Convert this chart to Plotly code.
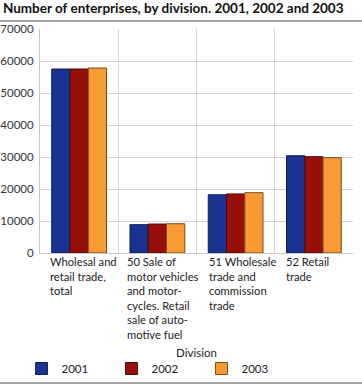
import plotly.graph_objects as go

title = "Number of enterprises, by division. 2001, 2002 and 2003"
categories = [
    "Wholesal and<br>retail trade,<br>total",
    "50 Sale of<br>motor vehicles<br>and motor-<br>cycles. Retail<br>sale of auto-<br>motive fuel",
    "51 Wholesale<br>trade and<br>commission<br>trade",
    "52 Retail<br>trade",
]
cat_keys = ["total", "50", "51", "52"]
years = ["2001", "2002", "2003"]
v2001 = [57500, 8850, 18200, 30400]
v2002 = [57500, 9050, 18450, 30100]
v2003 = [57800, 9150, 18850, 29800]
yticks = [0, 10000, 20000, 30000, 40000, 50000, 60000, 70000]
axis_title = "Division"

colors = ["#183391", "#980e08", "#f79a33"]
lines = ["#101f5a", "#4a0a06", "#7a4a1a"]
label_dx = [-0.40, -0.42, -0.37, -0.38]
font = "Lato"

fig = go.Figure()
for name, vals, c, lc in zip(years, [v2001, v2002, v2003], colors, lines):
    fig.add_trace(go.Bar(x=cat_keys, y=vals, name=name,
                         marker=dict(color=c, line=dict(color=lc, width=1))))

L, R, T, B = 40, 9, 29, 133
W, H = 362, 386
pw = W - L - R
ph = H - T - B

for i, lab in enumerate(categories):
    fig.add_annotation(x=i + label_dx[i], y=0, xref="x", yref="paper", yanchor="top",
                       xanchor="left", align="left", text=lab, showarrow=False,
                       yshift=0, font=dict(family=font, size=11.2, color="#222"))

# rules under title and at bottom
fig.add_shape(type="line", xref="paper", yref="paper",
              x0=-L / pw, x1=1 + R / pw, y0=1 + 8 / ph, y1=1 + 8 / ph,
              line=dict(color="#a0a0a0", width=2))
fig.add_shape(type="line", xref="paper", yref="paper",
              x0=-L / pw, x1=1 + R / pw, y0=-(383 - T - ph) / ph, y1=-(383 - T - ph) / ph,
              line=dict(color="#a0a0a0", width=2))

fig.update_layout(
    width=W, height=H,
    margin=dict(l=L, r=R, t=T, b=B, autoexpand=False),
    paper_bgcolor="white", plot_bgcolor="white",
    barmode="group", bargap=0.3, bargroupgap=0,
    font=dict(family=font, size=12, color="#222"),
    title=dict(text="<b>" + title + "</b>", x=0.008, xanchor="left",
               y=1 - 4 / H, yanchor="top", font=dict(family=font, size=13.5, color="#111")),
    xaxis=dict(showticklabels=False, tickson="boundaries", showgrid=True,
               gridcolor="#d4d4d4", gridwidth=1, showline=True, linecolor="#c8c8c8",
               range=[-0.5, 3.5], ticks="", automargin=False,
               title=dict(text=axis_title, standoff=95, font=dict(size=11.5))),
    yaxis=dict(range=[0, 70000], tickvals=yticks, tickformat="d", showgrid=True,
               gridcolor="#d4d4d4", gridwidth=1, showline=True, linecolor="#c8c8c8",
               ticks="", tickfont=dict(size=11.5, color="#333"), zeroline=False,
               ticklabelstandoff=3, automargin=False),
    legend=dict(orientation="h", x=-0.059, xanchor="left", y=-(383 - T - ph) / ph,
                yanchor="bottom", entrywidth=45, entrywidthmode="pixels",
                bgcolor="rgba(0,0,0,0)",
                font=dict(size=11.5), itemwidth=30),
)

fig.write_html("out.html", config={"displayModeBar": False},
               post_script="document.body.style.margin='0';")
